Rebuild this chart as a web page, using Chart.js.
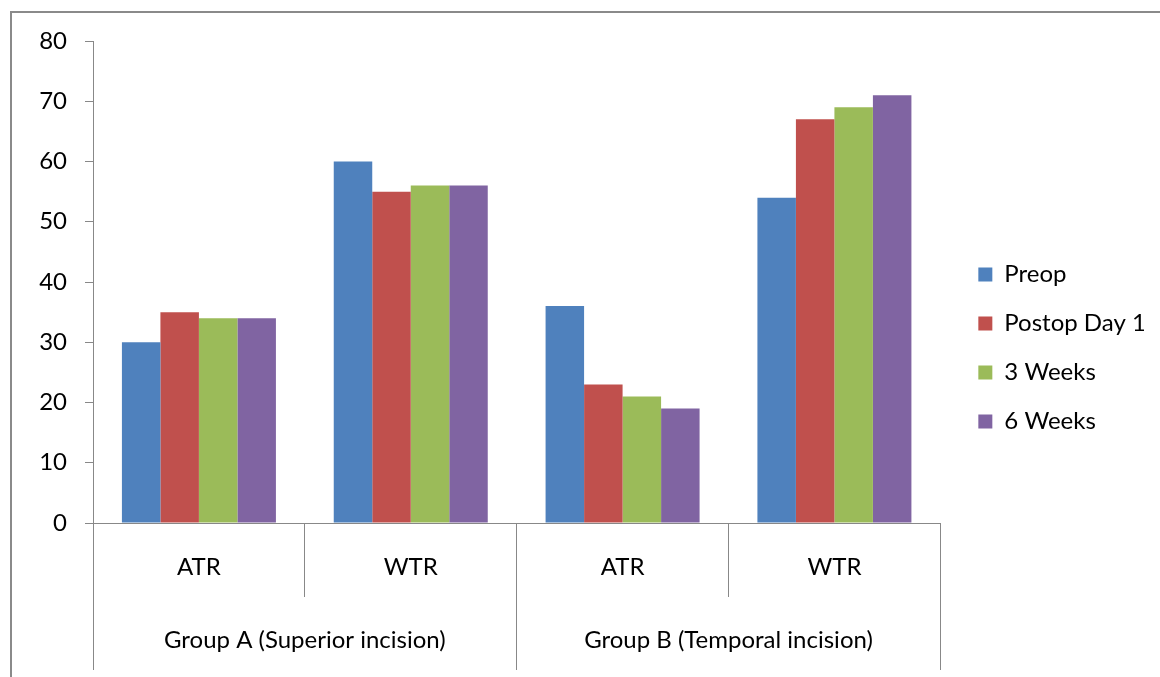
<!DOCTYPE html>
<html>
<head>
<meta charset="utf-8">
<script src="https://cdn.jsdelivr.net/npm/chart.js@4.4.1/dist/chart.umd.min.js"></script>
<style>
  html, body { margin: 0; padding: 0; background: #fff; overflow: hidden; }
  #frame { position: absolute; left: 10px; top: 11px; width: 1200px; height: 720px; border: 2px solid #8a8a8a; box-sizing: border-box; }
  #wrap { position: absolute; left: 0; top: 0; width: 1160px; height: 677px; }
</style>
</head>
<body>
<div id="frame"></div>
<div id="wrap"><canvas id="canvas"></canvas></div>
<script>
let categories = ['ATR', 'WTR', 'ATR', 'WTR']
let groups = ['Group A (Superior incision)', 'Group B (Temporal incision)']
let seriesNames = ['Preop', 'Postop Day 1', '3 Weeks', '6 Weeks']
let preop = [30, 60, 36, 54]
let postopDay1 = [35, 55, 23, 67]
let weeks3 = [34, 56, 21, 69]
let weeks6 = [34, 56, 19, 71]
let colors = ['#4f81bd', '#c0504d', '#9bbb59', '#8064a2']
let yMin = 0
let yMax = 80
let yStep = 10

let axisGray = '#888888'
let fontFamily = 'Lato, "Open Sans", sans-serif'
let fontSize = 24

let ctx = document.getElementById('canvas').getContext('2d')

let seriesValues = [preop, postopDay1, weeks3, weeks6]

// spacer scales only reserve room so the plot area sits where the original one does
function spacer(position, size) {
    return {
        type: position == 'top' ? 'category' : 'linear',
        position: position,
        display: true,
        ticks: { display: false },
        grid: { display: false },
        border: { display: false },
        afterFit: function(s) {
            if (position == 'top') s.height = size
            else s.width = size
        }
    }
}

let chart = new Chart(ctx, {
    type: 'bar',
    data: {
        labels: categories,
        datasets: seriesNames.map(function(name, i) {
            return {
                label: name,
                data: seriesValues[i],
                backgroundColor: colors[i],
                borderWidth: 0,
                categoryPercentage: 0.727,
                barPercentage: 1.0
            }
        })
    },
    options: {
        responsive: true,
        maintainAspectRatio: false,
        animation: false,
        layout: { padding: { top: 25, bottom: 6, left: 0, right: 16 } },
        plugins: {
            tooltip: { enabled: false },
            legend: {
                position: 'right',
                align: 'center',
                labels: {
                    boxWidth: 14,
                    boxHeight: 14,
                    padding: 25,
                    color: '#000',
                    font: { family: fontFamily, size: fontSize }
                }
            }
        },
        scales: {
            y: {
                min: yMin,
                max: yMax,
                ticks: {
                    stepSize: yStep,
                    padding: 18,
                    color: '#000',
                    font: { family: fontFamily, size: fontSize }
                },
                grid: { drawOnChartArea: false, tickLength: 8, color: axisGray },
                border: { color: axisGray, width: 1 },
                afterFit: function(s) { s.width = 93 }
            },
            yRight: spacer('right', 13),
            xTop: spacer('top', 16),
            x: {
                offset: true,
                ticks: {
                    padding: -44,
                    color: '#000',
                    maxRotation: 0,
                    autoSkip: false,
                    font: { family: fontFamily, size: fontSize }
                },
                grid: { offset: true, drawOnChartArea: false, tickLength: 74, color: axisGray },
                border: { color: axisGray, width: 1 },
                afterFit: function(s) { s.height = 74 }
            },
            x2: {
                type: 'category',
                position: 'bottom',
                labels: groups,
                offset: true,
                ticks: {
                    padding: -44,
                    color: '#000',
                    maxRotation: 0,
                    autoSkip: false,
                    font: { family: fontFamily, size: fontSize }
                },
                grid: { offset: true, drawOnChartArea: false, tickLength: 73, color: axisGray },
                border: { display: false },
                afterFit: function(s) { s.height = 74 }
            }
        }
    }
})
</script>
</body>
</html>
